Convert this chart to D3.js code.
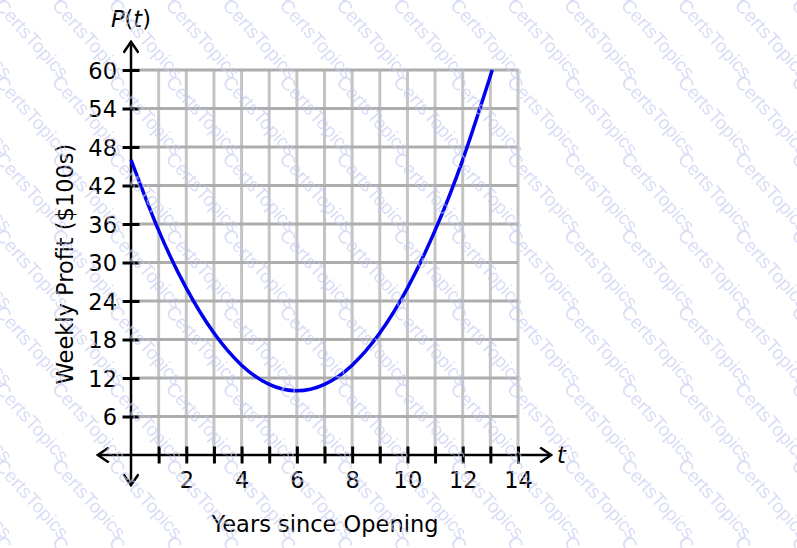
<!DOCTYPE html>
<html>
<head>
<meta charset="utf-8">
<script src="https://cdn.jsdelivr.net/npm/d3@7"></script>
<style>
  html, body { margin: 0; padding: 0; background: #fff; }
  svg { display: block; font-family: "DejaVu Sans", sans-serif; }
</style>
</head>
<body>
<svg id="chart" width="797" height="548"></svg>
<script>
// values
var years = [0, 1, 2, 3, 4, 5, 6, 7, 8, 9, 10, 11, 12, 13.07];
var profit = [46, 35, 26, 19, 14, 11, 10, 11, 14, 19, 26, 35, 46, 60];
var xTicks = [1, 2, 3, 4, 5, 6, 7, 8, 9, 10, 11, 12, 13, 14];
var xLabels = [2, 4, 6, 8, 10, 12, 14];
var yTicks = [6, 12, 18, 24, 30, 36, 42, 48, 54, 60];

var svg = d3.select("#chart");
var fontSize = "22.5px";

var x = d3.scaleLinear().domain([0, 14]).range([131, 518]);
var y = d3.scaleLinear().domain([0, 60]).range([455, 70]);

svg.append("rect").attr("width", 797).attr("height", 548).attr("fill", "#fff");

// open arrow heads
var defs = svg.append("defs");
defs.append("marker")
	.attr("id", "arrow")
	.attr("viewBox", "-12 -8 14 16")
	.attr("refX", 0).attr("refY", 0)
	.attr("markerWidth", 14).attr("markerHeight", 16)
	.attr("markerUnits", "userSpaceOnUse")
	.attr("orient", "auto-start-reverse")
	.append("path")
	.attr("d", "M-11,-7.5 L0,0 L-11,7.5")
	.attr("fill", "none")
	.attr("stroke", "#000")
	.attr("stroke-width", 2.5);

// grid
var grid = svg.append("g");
grid.selectAll(".vgrid")
	.data(xTicks)
	.enter().append("line")
	.attr("x1", function(d) { return x(d); })
	.attr("x2", function(d) { return x(d); })
	.attr("y1", y(0))
	.attr("y2", y(60))
	.attr("stroke", "#c4c4c4")
	.attr("stroke-width", 3);
grid.selectAll(".hgrid")
	.data(yTicks)
	.enter().append("line")
	.attr("x1", x(0))
	.attr("x2", x(14))
	.attr("y1", function(d) { return y(d); })
	.attr("y2", function(d) { return y(d); })
	.attr("stroke", "#adadad")
	.attr("stroke-width", 3);

// axis lines with arrows
svg.append("line")
	.attr("x1", x(-1.2)).attr("x2", x(15.2))
	.attr("y1", y(0)).attr("y2", y(0))
	.attr("stroke", "#000").attr("stroke-width", 2.5)
	.attr("marker-start", "url(#arrow)")
	.attr("marker-end", "url(#arrow)");
svg.append("line")
	.attr("x1", x(0)).attr("x2", x(0))
	.attr("y1", y(-4.7)).attr("y2", y(64.4))
	.attr("stroke", "#000").attr("stroke-width", 2.5)
	.attr("marker-start", "url(#arrow)")
	.attr("marker-end", "url(#arrow)");

// ticks
var gx = svg.append("g")
	.attr("transform", "translate(0," + y(0) + ")")
	.call(d3.axisBottom(x)
		.tickValues(xTicks)
		.tickFormat(function(d) { return xLabels.indexOf(d) >= 0 ? d : ""; }));
gx.select(".domain").remove();
gx.selectAll(".tick line").attr("y1", -8.5).attr("y2", 8.5)
	.attr("stroke", "#000").attr("stroke-width", 3);
gx.selectAll(".tick text").attr("y", 33).attr("dy", 0)
	.attr("fill", "#000").style("font-size", fontSize).style("font-family", "DejaVu Sans");

var gy = svg.append("g")
	.attr("transform", "translate(" + x(0) + ",0)")
	.call(d3.axisLeft(y).tickValues(yTicks));
gy.select(".domain").remove();
gy.selectAll(".tick line").attr("x1", -8.5).attr("x2", 8.5)
	.attr("stroke", "#000").attr("stroke-width", 3);
gy.selectAll(".tick text").attr("x", -14).attr("dy", "0.36em")
	.attr("fill", "#000").style("font-size", fontSize).style("font-family", "DejaVu Sans");

// curve
var points = years.map(function(t, i) { return {t: t, p: profit[i]}; });
svg.append("path")
	.datum(points)
	.attr("fill", "none")
	.attr("stroke", "#0000ee")
	.attr("stroke-width", 3.5)
	.attr("d", d3.line()
		.x(function(d) { return x(d.t); })
		.y(function(d) { return y(d.p); })
		.curve(d3.curveNatural));

// labels
var pt = svg.append("text")
	.attr("x", 111).attr("y", 27)
	.style("font-size", fontSize);
pt.append("tspan").style("font-style", "italic").text("P");
pt.append("tspan").text("(");
pt.append("tspan").style("font-style", "italic").text("t");
pt.append("tspan").text(")");

svg.append("text")
	.attr("x", 557).attr("y", 463)
	.style("font-size", fontSize)
	.style("font-style", "italic")
	.text("t");

svg.append("text")
	.attr("x", 325).attr("y", 532)
	.attr("text-anchor", "middle")
	.style("font-size", fontSize)
	.text("Years since Opening");

svg.append("text")
	.attr("transform", "translate(73,264) rotate(-90)")
	.attr("text-anchor", "middle")
	.style("font-size", fontSize)
	.text("Weekly Profit ($100s)");

// watermark
var wm = svg.append("g")
	.style("font-family", "Liberation Sans, Arial, sans-serif")
	.style("font-size", "19px")
	.attr("fill", "#c3c9f0")
	.attr("opacity", 0.62);
for (var r = -1; r < 8; r++) {
	for (var c = -1; c < 15; c++) {
		var px = -6 + c * 56.9, py = 6 + r * 76.7;
		wm.append("text")
			.attr("transform", "translate(" + px + "," + py + ") rotate(48)")
			.text("CertsTopics");
	}
}
</script>
</body>
</html>
